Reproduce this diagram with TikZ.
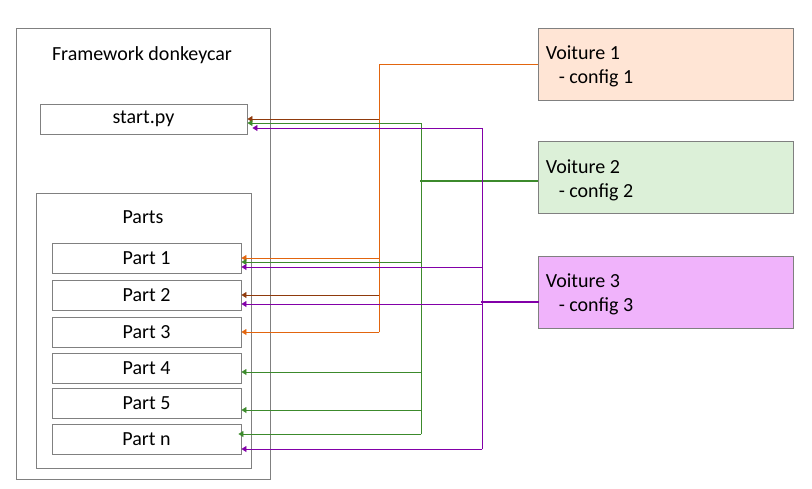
\documentclass[tikz,border=0pt]{standalone}
\usepackage{fontspec}
\setmainfont{Carlito}
\usetikzlibrary{arrows.meta}

\definecolor{boxgray}{HTML}{808080}
\definecolor{wireorange}{HTML}{E2650E}
\definecolor{wirebrown}{HTML}{8F3A0C}
\definecolor{wiregreen}{HTML}{3C8A2C}
\definecolor{wirepurple}{HTML}{8200A8}
\definecolor{carone}{HTML}{FFE5D5}
\definecolor{cartwo}{HTML}{DCF0D8}
\definecolor{carthree}{HTML}{F0B3FB}

\begin{document}
\begin{tikzpicture}[x=1pt,y=-1pt,
    every node/.style={
        font=\fontsize{20}{24}\selectfont
    },
    frame/.style={
        draw=boxgray,
        line width=0.9pt,
        inner sep=0pt
    },
    partbox/.style={
        frame,
        minimum width=189pt,
        minimum height=30pt
    },
    carbox/.style={
        frame,
        minimum width=255pt,
        minimum height=72pt
    },
    cartext/.style={
        anchor=west,
        align=left,
        inner sep=0pt
    },
    wire/.style={
        line width=0.9pt,
        line cap=rect
    },
    tip/.style={
        -{Triangle[length=5pt,width=6pt]}
    }
]

% framework side
\node[frame,minimum width=254pt,minimum height=451pt] (fw) at (143,253.5) {};
\node (fwtitle) at (142,55) {Framework donkeycar};
\node[partbox,minimum width=207pt] (start) at (143.5,119) {start.py};

\node[frame,minimum width=215pt,minimum height=275pt] (parts) at (143.5,330.5) {};
\node (partstitle) at (143,217) {Parts};
\node[partbox] (p1) at (146.5,258) {Part 1};
\node[partbox] (p2) at (146.5,295) {Part 2};
\node[partbox] (p3) at (146.5,332) {Part 3};
\node[partbox] (p4) at (146.5,368) {Part 4};
\node[partbox] (p5) at (146.5,403.5) {Part 5};
\node[partbox] (pn) at (146.5,439) {Part n};

% cars
\node[carbox,fill=carone] (v1) at (665.5,64) {};
\node[carbox,fill=cartwo] (v2) at (665.5,177.5) {};
\node[carbox,fill=carthree] (v3) at (665.5,292) {};

\node[cartext] (v1txt) at ([xshift=8pt,yshift=-2.5pt]v1.west) {Voiture 1\\\hspace*{13pt}- config 1};
\node[cartext] (v2txt) at ([xshift=8pt,yshift=-2.5pt]v2.west) {Voiture 2\\\hspace*{13pt}- config 2};
\node[cartext] (v3txt) at ([xshift=8pt,yshift=-2.5pt]v3.west) {Voiture 3\\\hspace*{13pt}- config 3};

% trunks
\coordinate (otop) at (379,64);
\coordinate (obot) at (379,332);
\coordinate (gtop) at (421,123);
\coordinate (gbot) at (421,434);
\coordinate (ptop) at (482,128);
\coordinate (pbot) at (482,449);

\draw[wire,wireorange] (v1.west) -- (otop) -- (obot);
\draw[wire,wiregreen,line width=1.5pt] ([yshift=-3.5pt]v2.west) -- ([yshift=-3.5pt]v2.west -| gtop);
\draw[wire,wiregreen] (gtop) -- (gbot);
\draw[wire,wirepurple,line width=2pt] ([yshift=-10pt]v3.west) -- ([yshift=-10pt]v3.west -| ptop);
\draw[wire,wirepurple] (ptop) -- (pbot);

% voiture 1
\draw[wire,wirebrown,tip] (otop |- start.east) -- (start.east);
\draw[wire,wireorange,tip] (otop |- p1.east) -- (p1.east);
\draw[wire,wirebrown,tip] (otop |- p2.east) -- (p2.east);
\draw[wire,wireorange,tip] (obot) -- (p3.east);

% voiture 2
\draw[wire,wiregreen,tip] (gtop) -- ([yshift=-4pt]start.east);
\draw[wire,wiregreen,tip] ([yshift=-4pt]p1.east -| gtop) -- ([yshift=-4pt]p1.east);
\draw[wire,wiregreen,tip] ([yshift=-4pt]p4.east -| gtop) -- ([yshift=-4pt]p4.east);
\draw[wire,wiregreen,tip] ([yshift=-6.5pt]p5.east -| gtop) -- ([yshift=-6.5pt]p5.east);
\draw[wire,wiregreen,tip] (gbot) -- ([xshift=-3pt,yshift=5pt]pn.east);

% voiture 3
\draw[wire,wirepurple,tip] (ptop) -- ([xshift=5pt,yshift=-9pt]start.east);
\draw[wire,wirepurple,tip] ([yshift=-9pt]p1.east -| ptop) -- ([yshift=-9pt]p1.east);
\draw[wire,wirepurple,tip] ([yshift=-9pt]p2.east -| ptop) -- ([yshift=-9pt]p2.east);
\draw[wire,wirepurple,tip] (pbot) -- ([yshift=-10pt]pn.east);

\pgfresetboundingbox
\path[use as bounding box] (0,0) rectangle (812,488);
\end{tikzpicture}
\end{document}
